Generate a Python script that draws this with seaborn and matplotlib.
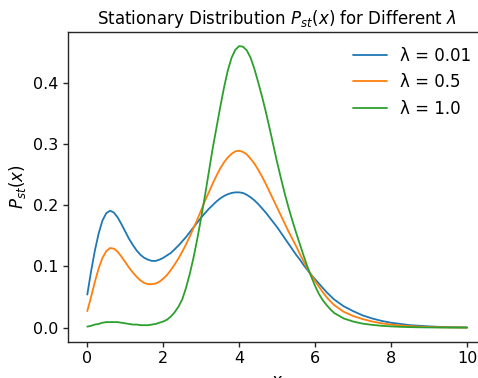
import numpy as np
import pandas as pd
import matplotlib
matplotlib.use("Agg")
import matplotlib.pyplot as plt
import seaborn as sns

# valores: paso 0.1 hasta 6.5, luego paso 0.25
x_vals = np.round(np.concatenate([np.arange(0, 6.51, 0.1), np.arange(6.75, 10.01, 0.25)]), 2)

p_001 = [0.054, 0.092, 0.126, 0.154, 0.175, 0.187, 0.191, 0.188, 0.180, 0.169,
         0.157, 0.145, 0.135, 0.126, 0.119, 0.114, 0.111, 0.109, 0.109, 0.111,
         0.114, 0.118, 0.122, 0.128, 0.134, 0.141, 0.148, 0.156, 0.164, 0.172,
         0.180, 0.187, 0.194, 0.200, 0.206, 0.211, 0.215, 0.218, 0.220, 0.221,
         0.221, 0.220, 0.217, 0.213, 0.208, 0.202, 0.195, 0.188, 0.180, 0.172,
         0.164, 0.155, 0.146, 0.137, 0.128, 0.119, 0.111, 0.102, 0.094, 0.086,
         0.079, 0.072, 0.065, 0.058, 0.052, 0.046,
         0.035, 0.027, 0.020, 0.015, 0.011, 0.008, 0.006, 0.004, 0.003, 0.002,
         0.0013, 0.0008, 0.0005, 0.0003]

p_05 = [0.027, 0.050, 0.075, 0.097, 0.114, 0.125, 0.130, 0.129, 0.124, 0.116,
        0.107, 0.098, 0.090, 0.083, 0.077, 0.073, 0.071, 0.071, 0.072, 0.075,
        0.080, 0.086, 0.094, 0.103, 0.113, 0.124, 0.136, 0.149, 0.163, 0.177,
        0.192, 0.207, 0.221, 0.235, 0.248, 0.260, 0.270, 0.278, 0.284, 0.288,
        0.289, 0.287, 0.283, 0.276, 0.268, 0.258, 0.247, 0.235, 0.222, 0.209,
        0.196, 0.183, 0.170, 0.157, 0.145, 0.133, 0.120, 0.108, 0.096, 0.086,
        0.076, 0.067, 0.058, 0.050, 0.043, 0.037,
        0.026, 0.019, 0.014, 0.010, 0.007, 0.005, 0.0035, 0.0024, 0.0016, 0.001,
        0.0006, 0.0004, 0.0002, 0.0001]

p_10 = [0.0016, 0.003, 0.005, 0.006, 0.008, 0.009, 0.009, 0.009, 0.009, 0.008,
        0.007, 0.006, 0.005, 0.005, 0.004, 0.004, 0.004, 0.005, 0.006, 0.008,
        0.010, 0.013, 0.018, 0.025, 0.034, 0.046, 0.065, 0.088, 0.115, 0.146,
        0.180, 0.216, 0.254, 0.292, 0.326, 0.360, 0.392, 0.420, 0.441, 0.454,
        0.460, 0.459, 0.453, 0.441, 0.423, 0.401, 0.378, 0.353, 0.326, 0.298,
        0.270, 0.244, 0.219, 0.196, 0.175, 0.155, 0.136, 0.117, 0.099, 0.083,
        0.068, 0.055, 0.045, 0.037, 0.030, 0.024,
        0.015, 0.010, 0.0065, 0.0045, 0.003, 0.002, 0.0013, 0.0008, 0.0005, 0.0003,
        0.0002, 0.0001, 0.0001, 0.0]

labels = ["λ = 0.01", "λ = 0.5", "λ = 1.0"]

df = pd.DataFrame({
    "x": np.tile(x_vals, 3),
    "P": p_001 + p_05 + p_10,
    "lam": np.repeat(labels, len(x_vals)),
})

sns.set_theme(style="ticks")
plt.rcParams["font.family"] = ["DejaVu Sans"]
plt.rcParams["text.color"] = "black"
plt.rcParams["axes.labelcolor"] = "black"
plt.rcParams["xtick.labelcolor"] = "black"
plt.rcParams["ytick.labelcolor"] = "black"
plt.rcParams["axes.linewidth"] = 1.0
for a in ("xtick", "ytick"):
    plt.rcParams[f"{a}.major.size"] = 3.5
    plt.rcParams[f"{a}.major.width"] = 1.0
    plt.rcParams[f"{a}.major.pad"] = 3.5

fig = plt.figure(figsize=(4.78, 3.78), dpi=100)
ax = fig.add_axes([68.3 / 478, (378 - 341.7) / 378, (486 - 68.3) / 478, (341.7 - 32) / 378])

sns.lineplot(data=df, x="x", y="P", hue="lam", palette="tab10", linewidth=1.3, ax=ax)

ax.set_title(r"Stationary Distribution $P_{st}(x)$ for Different $\lambda$", fontsize=12)
ax.set_xlabel(r"$x$", fontsize=12)
ax.set_ylabel(r"$P_{st}(x)$", fontsize=12)
ax.tick_params(labelsize=11.5)
ax.set_xticks([0, 2, 4, 6, 8, 10])
ax.set_yticks([0.0, 0.1, 0.2, 0.3, 0.4])
ax.legend(frameon=False, fontsize=12, loc="upper right")

fig.savefig("out.png", dpi=100)
